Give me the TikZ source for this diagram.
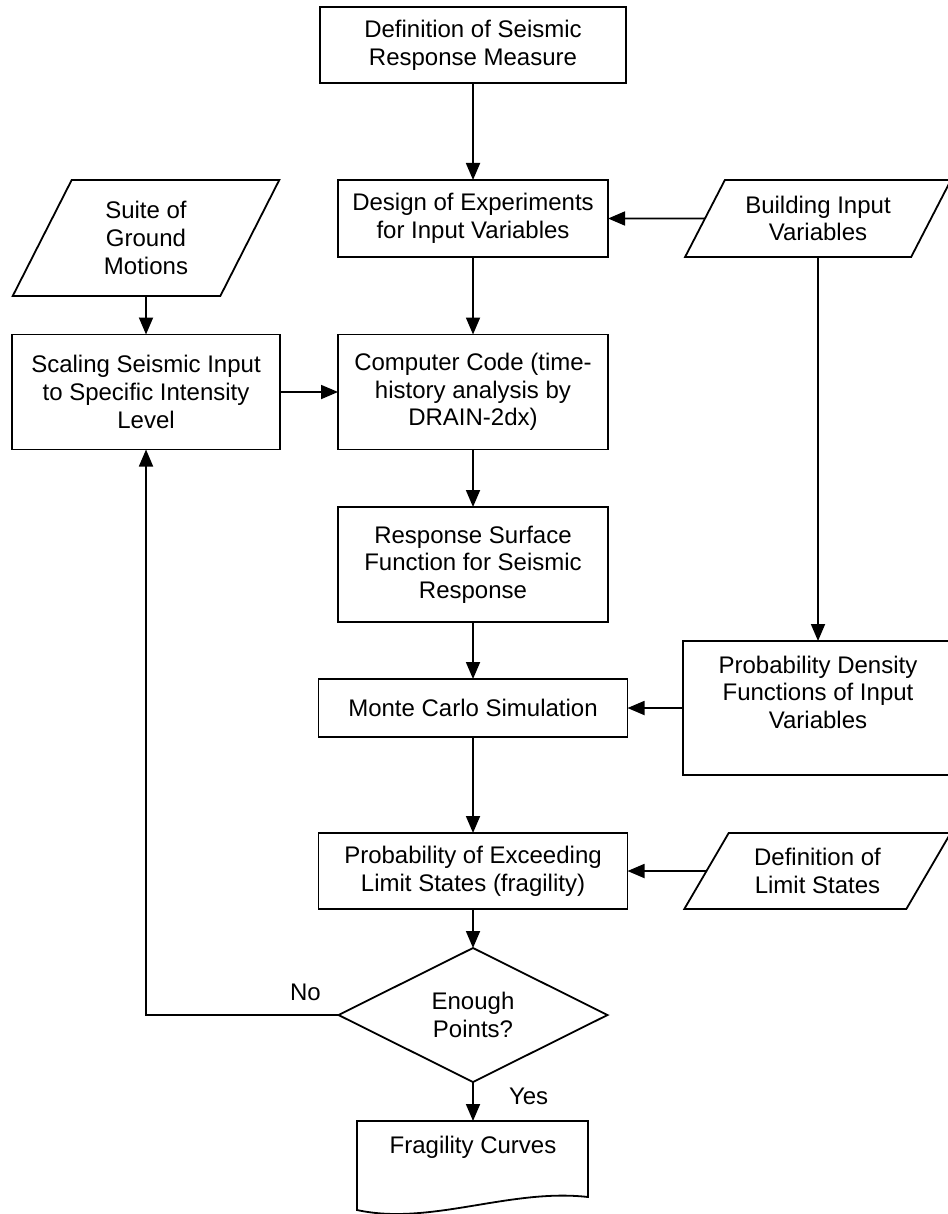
\documentclass[tikz,border=0pt]{standalone}
\usepackage{fontspec}
\setmainfont{Liberation Sans}
\usetikzlibrary{arrows.meta,shapes.geometric}

\begin{document}
\begin{tikzpicture}[x=0.5pt,y=-0.5pt,
    every node/.style={inner sep=0,outer sep=0,align=center,
        font=\fontsize{12}{13.8}\selectfont},
    box/.style={draw,line width=0.9pt,rectangle},
    datain/.style={draw,line width=0.9pt,trapezium,trapezium stretches},
    flow/.style={line width=0.9pt,-{Triangle[length=8.5pt,width=7pt]}}]
    \useasboundingbox (0,0) rectangle (947,1214);
    \node[box,minimum width=153pt,minimum height=38pt](measure) at (473,45)
        {Definition of Seismic\\Response Measure};
    \node[box,minimum width=135pt,minimum height=38.5pt](doe) at (473,218.5)
        {Design of Experiments\\for Input Variables};
    \node[datain,trapezium left angle=55.5,trapezium right angle=124.5,
        minimum width=133pt,minimum height=38.5pt](building) at (818,218.5)
        {Building Input\\Variables};
    \node[datain,trapezium left angle=65.4,trapezium right angle=114.6,
        minimum width=134pt,minimum height=58pt](suite) at (146,238)
        {Suite of\\Ground\\Motions};
    \node[box,minimum width=134pt,minimum height=57.5pt](scaling) at (146,392)
        {Scaling Seismic Input\\to Specific Intensity\\Level};
    \node[box,minimum width=135pt,minimum height=57.5pt](code) at (473,392)
        {Computer Code (time-\\history analysis by\\DRAIN-2dx)};
    \node[box,minimum width=135pt,minimum height=57.5pt](surface) at (473,564.5)
        {Response Surface\\Function for Seismic\\Response};
    \node[box,minimum width=154.5pt,minimum height=29pt](monte) at (473,708)
        {Monte Carlo Simulation};
    \node[box,minimum width=135pt,minimum height=67pt](pdf) at (818,708) {};
    \node[anchor=north](pdftext) at (818,656)
        {Probability Density\\Functions of Input\\Variables};
    \node[box,minimum width=154.5pt,minimum height=38pt](exceed) at (473,871)
        {Probability of Exceeding\\Limit States (fragility)};
    \node[datain,trapezium left angle=55,trapezium right angle=125,
        minimum width=133.5pt,minimum height=38pt](limits) at (817.5,871)
        {Definition of\\Limit States};
    \node[draw,line width=0.9pt,diamond,minimum width=134.5pt,minimum height=67pt]
        (enough) at (473,1015) {Enough\\Points?};
    \node(curves) at (473,1147) {Fragility Curves};
    \coordinate(curvestop) at (473,1121);
    \draw[line width=0.9pt] (357,1121) -- (588,1121) -- (588,1197)
        .. controls (510,1188) and (430,1226) .. (357,1210) -- cycle;
    \draw[flow] (measure) -- (doe);
    \draw[flow] (building) -- (doe);
    \draw[flow] (doe) -- (code);
    \draw[flow] (suite) -- (scaling);
    \draw[flow] (scaling) -- (code);
    \draw[flow] (code) -- (surface);
    \draw[flow] (surface) -- (monte);
    \draw[flow] (building.south) -- (pdf.north);
    \draw[flow] (pdf) -- (monte);
    \draw[flow] (monte) -- (exceed);
    \draw[flow] (limits) -- (exceed);
    \draw[flow] (exceed) -- (enough);
    \draw[flow] (enough.west) -| node[pos=0.086,above=7pt]{No} (scaling.south);
    \draw[flow] (enough.south) -- node[pos=0.38,right=18pt]{Yes} (curvestop);
\end{tikzpicture}
\end{document}
